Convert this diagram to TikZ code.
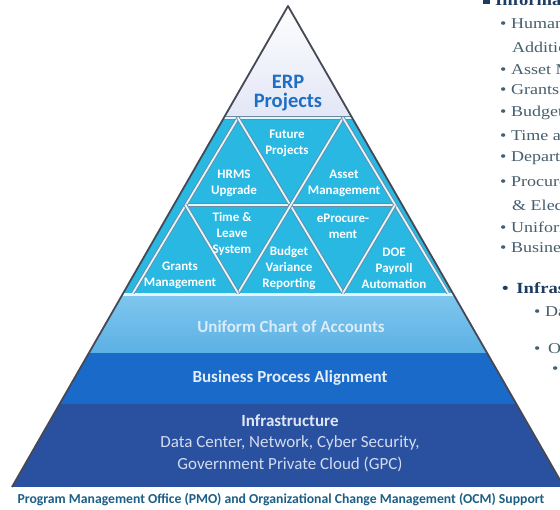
\documentclass[tikz,border=0pt]{standalone}
\usepackage{fontspec}
\setmainfont{Carlito}
\newfontfamily\serifR{Liberation Serif}
\definecolor{cyanT}{RGB}{40,184,226}
\definecolor{ucaTop}{RGB}{125,198,238}
\definecolor{ucaBot}{RGB}{92,176,228}
\definecolor{bpaC}{RGB}{26,106,202}
\definecolor{infC}{RGB}{42,80,160}
\definecolor{erpC}{RGB}{30,110,195}
\definecolor{capC}{RGB}{28,95,135}
\definecolor{sideC}{RGB}{70,95,110}
\definecolor{sideH}{RGB}{30,60,95}
\definecolor{edgeC}{RGB}{70,72,85}
\definecolor{gridS}{RGB}{105,140,165}
\definecolor{gridW}{RGB}{228,245,252}
\definecolor{topW}{RGB}{226,230,246}
\begin{document}
\begin{tikzpicture}[x=1pt,y=-1pt,
  tri/.style={font=\fontsize{13}{16}\selectfont\bfseries, text=white, align=center, inner sep=0pt},
  band/.style={font=\fontsize{17}{20}\selectfont\bfseries, align=center, inner sep=0pt},
  bandtxt/.style={font=\fontsize{17}{20}\selectfont, align=center, inner sep=0pt},
  gridline/.style={draw=gridW, line width=1.8pt, preaction={draw=gridS, line width=3.6pt}},
  side/.style={font=\serifR\fontsize{15}{18}\selectfont, text=sideC, anchor=west, inner sep=0pt, xscale=1.2},
  sideb/.style={font=\serifR\bfseries\fontsize{15.5}{18}\selectfont, text=sideH, anchor=west, inner sep=0pt, xscale=1.2}
]
\useasboundingbox (0,0) rectangle (560,510);
\fill[white] (0,0) rectangle (560,510);
\coordinate (A) at (288,6);
\coordinate (BL) at (12,487);
\coordinate (BR) at (564,487);
\begin{scope}
  \clip (0,0) rectangle (560,510);
  \begin{scope}
    \clip (A) -- (BL) -- (BR) -- cycle;
    \shade[top color=white, bottom color=topW] (0,0) rectangle (560,118);
    \fill[cyanT] (0,118) rectangle (560,294);
    \fill[gridW] (0,293) rectangle (560,298);
    \shade[top color=ucaTop, bottom color=ucaBot] (0,297) rectangle (560,353);
    \fill[bpaC] (0,353) rectangle (560,404);
    \fill[infC] (0,404) rectangle (560,488);
    % triangle grid
    \draw[gridline] (0,118) -- (560,118);
    \draw[gridline] (185.5,205) -- (395,205);
    \draw[gridline] (238,118) -- (133,293);
    \draw[gridline] (238,118) -- (343,293);
    \draw[gridline] (343,118) -- (238,293);
    \draw[gridline] (343,118) -- (448,293);
    \draw[gridline] (185.5,205) -- (238,293);
    \draw[gridline] (395,205) -- (343,293);
  \end{scope}
  \draw[edgeC, line width=1.8pt, line join=round] (BL) -- (A) -- (BR);

  % right-hand slide text, cut off by the picture's edge as in the reference
  \fill[sideH] (483,-2) rectangle (490,4);
  \node[sideb, anchor=base west] (hdr) at (495,6) {Information};
  \node[side] (s1) at (500,24) {• Human};
  \node[side] (s2) at (512,47) {Addition};
  \node[side] (s3) at (500,70) {• Asset M};
  \node[side] (s4) at (500,90) {• Grants};
  \node[side] (s5) at (500,113) {• Budget};
  \node[side] (s6) at (500,135) {• Time and};
  \node[side] (s7) at (500,158) {• Departm};
  \node[side] (s8) at (500,182) {• Procure};
  \node[side] (s9) at (512,205) {\& Electr};
  \node[side] (s10) at (500,227) {• Uniform};
  \node[side] (s11) at (500,248) {• Business};
  \node[sideb] (s12) at (502,288) {•\, Infrastr};
  \node[side] (s13) at (534,312) {• Data};
  \node[side] (s14) at (534,349) {•\, O};
  \node[side] (s15) at (552,370) {•};
\end{scope}

% labels
\node[font=\fontsize{20.5}{19}\selectfont\bfseries, text=erpC, align=center, inner sep=0pt] (erp) at (288,93.5) {ERP\\Projects};
\node[tri] (future) at (287,143) {Future\\Projects};
\node[tri] (hrms) at (234,183.5) {HRMS\\Upgrade};
\node[tri] (asset) at (344,183.5) {Asset\\Management};
\node[tri] (time) at (232,234) {Time \&\\Leave\\System};
\node[tri] (eproc) at (343,226) {eProcure-\\ment};
\node[tri] (budget) at (289,268) {Budget\\Variance\\Reporting};
\node[tri] (grants) at (180,275) {Grants\\Management};
\node[tri] (doe) at (394,268) {DOE\\Payroll\\Automation};

\node[band, text={rgb,255:red,218;green,236;blue,248}] (uca) at (291,327) {Uniform Chart of Accounts};
\node[band, text={rgb,255:red,228;green,238;blue,250}] (bpa) at (290,378) {Business Process Alignment};
\node[band, text={rgb,255:red,222;green,230;blue,245}] (infra) at (290,421) {Infrastructure};
\node[bandtxt, text={rgb,255:red,210;green,220;blue,240}] (infra2) at (290,443) {Data Center, Network, Cyber Security,};
\node[bandtxt, text={rgb,255:red,210;green,220;blue,240}] (infra3) at (290,464) {Government Private Cloud (GPC)};

\node[font=\fontsize{13.7}{15}\selectfont\bfseries, text=capC, inner sep=0pt] (cap) at (281,500) {Program Management Office (PMO) and Organizational Change Management (OCM) Support};
\end{tikzpicture}
\end{document}
